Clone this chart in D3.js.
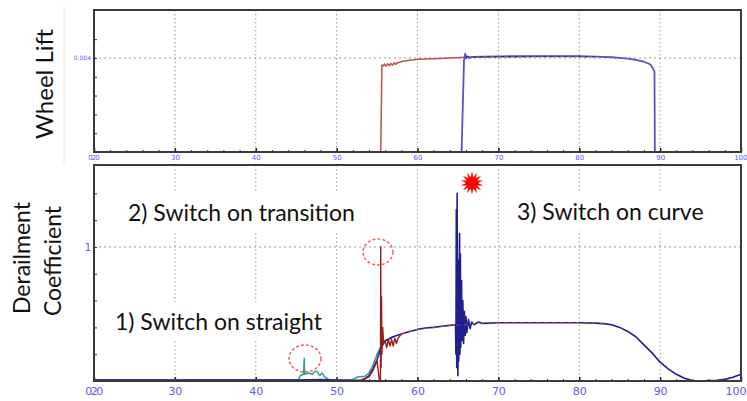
<!DOCTYPE html>
<html><head><meta charset="utf-8">
<script src="https://cdn.jsdelivr.net/npm/d3@7"></script>
<style>body{margin:0;background:#fff}svg{display:block}</style>
</head><body><svg id="c" width="747" height="401"></svg>
<script>
// ---------- data ----------
const xTicks = [20,30,40,50,60,70,80,90,100];
const xTickLabels = ["020","30","40","50","60","70","80","90","100"];
const xMinor = d3.range(20,101,2);
const liftTicks = [0.0008,0.0016,0.0024,0.0032,0.004,0.0048];
const liftLabels = ["0.004"];
const coefTicks = [0.2,0.4,0.6,0.8,1,1.2,1.4];
const coefLabels = ["1"];

// Wheel lift – red wheel
const liftRedX = [20,55.45,55.6,55.75,55.9,56.1,56.3,56.5,56.7,56.9,57.1,57.3,57.5,57.8,58.2,59,60,61,62,64,66,70,75,80,81];
const liftRedY = [0,0,0.0037,0.00366,0.00374,0.00365,0.00375,0.00367,0.00377,0.00369,0.00379,0.00372,0.0038,0.00382,0.00386,0.0039,0.00394,0.00396,0.00397,0.004,0.00403,0.00405,0.00406,0.00406,0.00405];
// Wheel lift – blue wheel
const liftBlueX = [20,65.45,65.75,65.9,66.0,66.15,66.4,66.8,68,70,75,80,82,84,85,86,87,88,88.8,89.3,89.35,100];
const liftBlueY = [0,0,0.0039,0.00418,0.00398,0.00407,0.004,0.00405,0.00406,0.00407,0.00408,0.00408,0.00406,0.00403,0.004,0.00397,0.00392,0.00384,0.00372,0.00344,0,0];
const liftDashX = [66,70,75,80,82];
const liftDashY = [0.00404,0.00406,0.00407,0.00407,0.00405];

// Derailment coefficient – navy
const coefNavyX = [20,25,30,35,40,45,48,50,52,53,53.5,54,54.5,55,55.5,56,56.5,57,58,59,60,61,62,63,64,64.7,64.75,64.8,64.85,64.9,64.95,65.0,65.05,65.1,65.2,65.25,65.3,65.35,65.45,65.5,65.6,65.7,65.8,65.9,66.0,66.1,66.3,66.5,66.7,67,67.5,68,70,75,80,82,83,84,85,86,87,88,89,90,91,92,93,94,95,96,97,98,99,100];
const coefNavyY = [0.007,0.007,0.008,0.007,0.007,0.008,0.01,0.008,0.006,0.008,0.015,0.04,0.09,0.16,0.25,0.3,0.315,0.33,0.35,0.37,0.385,0.395,0.4,0.408,0.415,0.42,0.2,1.28,0.1,1.4,0.3,0.04,0.9,0.15,1.1,0.2,0.95,0.25,0.75,0.3,0.6,0.28,0.52,0.34,0.48,0.36,0.46,0.39,0.44,0.42,0.44,0.43,0.435,0.435,0.435,0.432,0.428,0.42,0.4,0.37,0.33,0.27,0.21,0.14,0.09,0.05,0.02,0.003,0.0,0.004,0.006,0.012,0.028,0.05];
// Derailment coefficient – red (spike on transition)
const coefRedX = [53,54,54.5,55.0,55.3,55.42,55.45,55.5,55.55,55.6,55.7,55.8,56.0,56.2,56.4,56.6,56.8,57.0,57.2,57.4,57.6,58];
const coefRedY = [0.008,0.03,0.08,0.15,0.0,0.0,1.0,0.1,0.63,0.2,0.4,0.28,0.3,0.25,0.31,0.26,0.31,0.26,0.32,0.28,0.32,0.35];
const coefRedTailX = [58,60,62,64,66,68,70,75,80,83];
const coefRedTailY = [0.35,0.385,0.4,0.415,0.42,0.43,0.435,0.435,0.435,0.428];
// Derailment coefficient – teal (spike on straight)
const coefTealX = [20,30,40,45,45.3,45.5,45.9,46.0,46.05,46.5,47,47.3,47.6,47.9,48.2,48.5,49,50,52,52.6,53.5,54,54.5,55,55.5,56,57];
const coefTealY = [0.008,0.008,0.008,0.01,0.012,0.04,0.05,0.17,0.05,0.06,0.05,0.07,0.07,0.04,0.06,0.03,0.012,0.008,0.01,0.03,0.035,0.06,0.12,0.2,0.26,0.3,0.33];

const annotations = ["2) Switch on transition","1) Switch on straight","3) Switch on curve"];
const annoPos = [[128,213],[115,322],[517,212]];

// ---------- drawing ----------
const svg = d3.select("#c");
svg.append("rect").attr("width",747).attr("height",401).attr("fill","#fff");
const blueTxt = "#5b5bf5";
const layerGrid = svg.append("g"), layerLines = svg.append("g"), layerFront = svg.append("g");

function panel(cfg){
  const x = d3.scaleLinear().domain([20,100]).range([94,741]);
  const y = d3.scaleLinear().domain(cfg.ydom).range([cfg.bottom,cfg.top]);
  const g = layerGrid.append("g");
  g.selectAll(".vg").data(xTicks.slice(1,-1)).join("line")
    .attr("x1",d=>x(d)).attr("x2",d=>x(d)).attr("y1",cfg.top).attr("y2",cfg.bottom)
    .attr("stroke","#9a9a9a").attr("stroke-width",1).attr("stroke-dasharray","1.5,2.5");
  g.selectAll(".hg").data(cfg.grid).join("line")
    .attr("x1",94).attr("x2",741).attr("y1",d=>y(d)).attr("y2",d=>y(d))
    .attr("stroke","#9a9a9a").attr("stroke-width",1).attr("stroke-dasharray","2,3");
  const ax = d3.axisBottom(x).tickValues(xMinor).tickSize(-2).tickFormat("");
  const axg = g.append("g").attr("transform",`translate(0,${cfg.bottom})`).call(ax);
  axg.select(".domain").remove();
  axg.selectAll("line").attr("stroke","#333");
  const axM = d3.axisBottom(x).tickValues(xTicks).tickSize(-4).tickPadding(cfg.lblPad)
    .tickFormat((d,i)=>xTickLabels[i]);
  const axmg = g.append("g").attr("transform",`translate(0,${cfg.bottom})`).call(axM);
  axmg.select(".domain").remove();
  axmg.selectAll("line").attr("stroke","#222").attr("stroke-width",1.5);
  const lbl = axmg.selectAll("text").attr("fill",blueTxt).attr("font-family","DejaVu Sans, sans-serif")
    .attr("font-size",cfg.lblSize);
  lbl.filter(d=>d===100).attr("text-anchor","end").attr("dx",cfg.lastDx);
  lbl.filter(d=>d===20).attr("letter-spacing",-cfg.lblSize*0.14).attr("dx",-1);
  const ay = d3.axisLeft(y).tickValues(cfg.yticks).tickSize(-3).tickFormat("");
  const ayg = g.append("g").attr("transform","translate(94,0)").call(ay);
  ayg.select(".domain").remove();
  ayg.selectAll("line").attr("stroke","#333");
  g.selectAll(".yl").data(cfg.grid).join("text")
    .attr("x",cfg.ylx).attr("y",d=>y(d)).attr("dy","0.35em").attr("text-anchor","end")
    .attr("fill",blueTxt).attr("font-family","DejaVu Sans, sans-serif").attr("font-size",cfg.ylSize)
    .text((d,i)=>cfg.ylabels[i]);
  return {x,y,g};
}

const topP = panel({ydom:[0,0.00604],top:10,bottom:152,grid:[0.004],yticks:liftTicks,ylabels:liftLabels,lblPad:3,lblSize:7,ylx:91,ylSize:6,lastDx:6});
const botP = panel({ydom:[0,1.612],top:165,bottom:381,grid:[1],yticks:coefTicks,ylabels:coefLabels,lblPad:6,lblSize:11,ylx:91,ylSize:10,lastDx:5});

function drawLine(p,xs,ys,color,w,dash){
  const line = d3.line().x(d=>p.x(d[0])).y(d=>p.y(d[1]));
  const data = xs.map((v,i)=>[v,ys[i]]);
  const path = layerLines.append("path").datum(data).attr("d",line).attr("fill","none")
    .attr("stroke",color).attr("stroke-width",w).attr("stroke-linejoin","round");
  if(dash) path.attr("stroke-dasharray",dash);
}
drawLine(topP,liftRedX,liftRedY,"#b5524e",1.5);
drawLine(topP,liftBlueX,liftBlueY,"#5555bb",1.8);
drawLine(topP,liftDashX,liftDashY,"#2a2a8a",1,"3,4");
drawLine(botP,coefTealX,coefTealY,"#2e9e9e",1.5);
drawLine(botP,coefNavyX,coefNavyY,"#1f1f8f",1.6);
drawLine(botP,coefRedX,coefRedY,"#9a1d1d",1.4);
drawLine(botP,coefRedTailX,coefRedTailY,"#c04040",1.2,"3,5");

[[10,152],[165,381]].forEach(([t,b])=>{
  layerFront.append("rect").attr("x",94).attr("y",t).attr("width",741-94).attr("height",b-t)
    .attr("fill","none").attr("stroke","#3a3a3a").attr("stroke-width",2);
});
layerFront.append("line").attr("x1",64).attr("x2",64).attr("y1",7).attr("y2",163).attr("stroke","#e4e4e4");

function vtext(cx,cy,txt,size){
  layerFront.append("text").attr("transform",`translate(${cx},${cy}) rotate(-90)`).attr("text-anchor","middle")
    .attr("dy","0.35em").attr("font-family","Lato, 'Open Sans', sans-serif").attr("font-size",size)
    .attr("fill","#111").text(txt);
}
vtext(45,84,"Wheel Lift",24);
vtext(22,258,"Derailment",23);
vtext(53,261,"Coefficient",23);

annotations.forEach((t,i)=>{
  const g = layerFront.append("g");
  const r = g.append("rect").attr("fill","#fff");
  const tx = g.append("text").attr("x",annoPos[i][0]).attr("y",annoPos[i][1]).attr("dy","0.35em")
    .attr("font-family","Lato, 'Open Sans', sans-serif").attr("font-size",23).attr("fill","#111").text(t);
  const bb = tx.node().getBBox();
  r.attr("x",bb.x-6).attr("y",bb.y-5).attr("width",bb.width+12).attr("height",bb.height+10);
});

[[305,358.5,16,13.5],[378,252,15,13]].forEach(([cx,cy,rx,ry])=>{
  layerFront.append("ellipse").attr("cx",cx).attr("cy",cy).attr("rx",rx).attr("ry",ry)
    .attr("fill","none").attr("stroke","#f05a5a").attr("stroke-width",1.4).attr("stroke-dasharray","3,2");
});
const n=14, pts=[];
for(let i=0;i<n*2;i++){const r=i%2?6:11.5;const a=i*Math.PI/n;pts.push([472+r*Math.sin(a),183-r*Math.cos(a)]);}
layerFront.append("path").attr("d","M"+pts.map(p=>p.join(",")).join("L")+"Z").attr("fill","#f00");
</script></body></html>
